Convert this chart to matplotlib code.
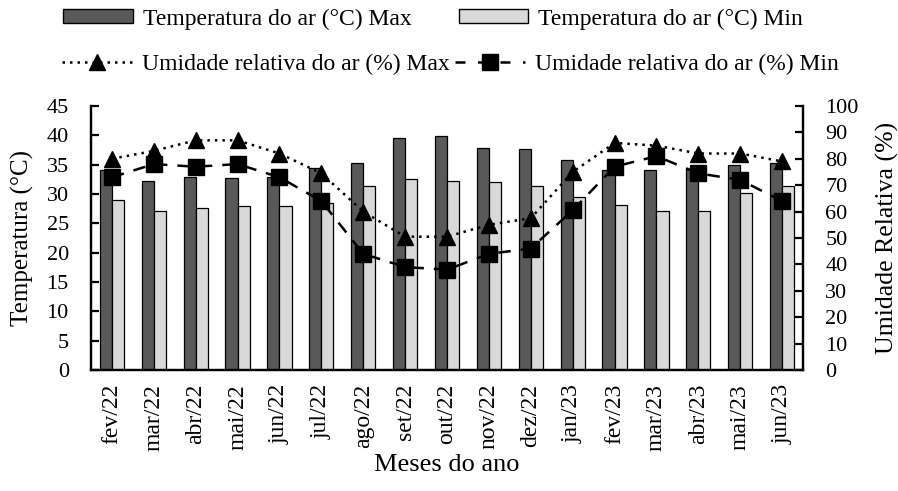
import matplotlib
matplotlib.use("Agg")
import matplotlib.pyplot as plt
import numpy as np
from matplotlib.lines import Line2D
from matplotlib.patches import Patch

plt.rcParams["font.family"] = ["Liberation Serif", "DejaVu Serif"]

months = ["fev/22", "mar/22", "abr/22", "mai/22", "jun/22", "jul/22", "ago/22",
          "set/22", "out/22", "nov/22", "dez/22", "jan/23", "fev/23", "mar/23",
          "abr/23", "mai/23", "jun/23"]
temp_max = [34.1, 32.3, 32.9, 32.7, 32.9, 34.4, 35.3, 39.5, 39.9, 37.8, 37.6,
            35.8, 34.1, 34.1, 34.2, 35.0, 35.3]
temp_min = [29.0, 27.1, 27.6, 28.0, 28.0, 28.5, 31.3, 32.5, 32.3, 32.1, 31.3,
            29.5, 28.1, 27.1, 27.1, 30.1, 31.3]
ur_max = [80, 83, 87, 87, 82, 74.5, 60, 50.5, 50.5, 55, 57.5, 75, 86, 85, 82, 82, 79]
ur_min = [73, 78, 77, 78, 73, 64, 44, 39, 38, 44, 46, 60.5, 77, 81, 74.5, 72, 64]

DOT = (0, (1, 2))
DASH = (0, (5, 4))

fig = plt.figure(figsize=(8.98, 4.91), dpi=100)
ax = fig.add_axes([91 / 898, 1 - 370 / 491, (803 - 91) / 898, (370 - 106) / 491])
ax2 = ax.twinx()

x = np.arange(len(months))
w = 0.29
ax.bar(x - w / 2, temp_max, w, color="#595959", edgecolor="black", linewidth=0.9, zorder=2)
ax.bar(x + w / 2, temp_min, w, color="#d9d9d9", edgecolor="black", linewidth=0.9, zorder=2)

ax2.plot(x, ur_max, color="black", linestyle=DOT, linewidth=1.8,
         marker="^", markersize=11.5)
ax2.plot(x, ur_min, color="black", linestyle=DASH, linewidth=1.8,
         marker="s", markersize=11)

ax.set_xlim(-0.5, len(months) - 0.5)
ax.set_ylim(0, 45)
ax.set_yticks(np.arange(0, 46, 5))
ax2.set_ylim(0, 100)
ax2.set_yticks(np.arange(0, 101, 10))
ax.set_xticks(x)
ax.set_xticklabels(months, rotation=90, fontsize=17)

for a in (ax, ax2):
    a.spines["top"].set_visible(False)
    for s in ("left", "right", "bottom"):
        a.spines[s].set_linewidth(1.6)
ax.tick_params(axis="y", direction="in", length=6, width=1.6, pad=16, labelsize=16)
ax2.tick_params(axis="y", direction="in", length=6, width=1.6, pad=16, labelsize=16)
ax.tick_params(axis="x", length=0, pad=10)

ax.set_ylabel("Temperatura (°C)", fontsize=18)
ax2.set_ylabel("Umidade Relativa (%)", fontsize=18.5)
ax.set_xlabel("Meses do ano", fontsize=19)
ax.yaxis.set_label_coords(-0.08, 0.5)
ax2.yaxis.set_label_coords(1.103, 0.5)
ax.xaxis.set_label_coords(0.5, -0.318)

bar_handles = [Patch(facecolor="#595959", edgecolor="black"),
               Patch(facecolor="#d9d9d9", edgecolor="black")]
fig.legend(bar_handles, ["Temperatura do ar (°C) Max", "Temperatura do ar (°C) Min"],
           ncol=2, loc="center left", bbox_to_anchor=(63 / 898, 1 - 19 / 491),
           frameon=False, fontsize=17, handlelength=2.95, handleheight=0.5,
           handletextpad=0.42, columnspacing=2.0, borderaxespad=0, borderpad=0)
line_handles = [Line2D([], [], color="black", linestyle=DOT, linewidth=1.8,
                       marker="^", markersize=11.5),
                Line2D([], [], color="black", linestyle=(0, (4, 5)), linewidth=1.8,
                       marker="s", markersize=11)]
fig.legend(line_handles, ["Umidade relativa do ar (%) Max", "Umidade relativa do ar (%) Min"],
           ncol=2, loc="center left", bbox_to_anchor=(62 / 898, 1 - 64 / 491),
           frameon=False, fontsize=17, handlelength=2.95,
           handletextpad=0.42, columnspacing=0.25, borderaxespad=0, borderpad=0)

fig.savefig("out.png", dpi=100)
